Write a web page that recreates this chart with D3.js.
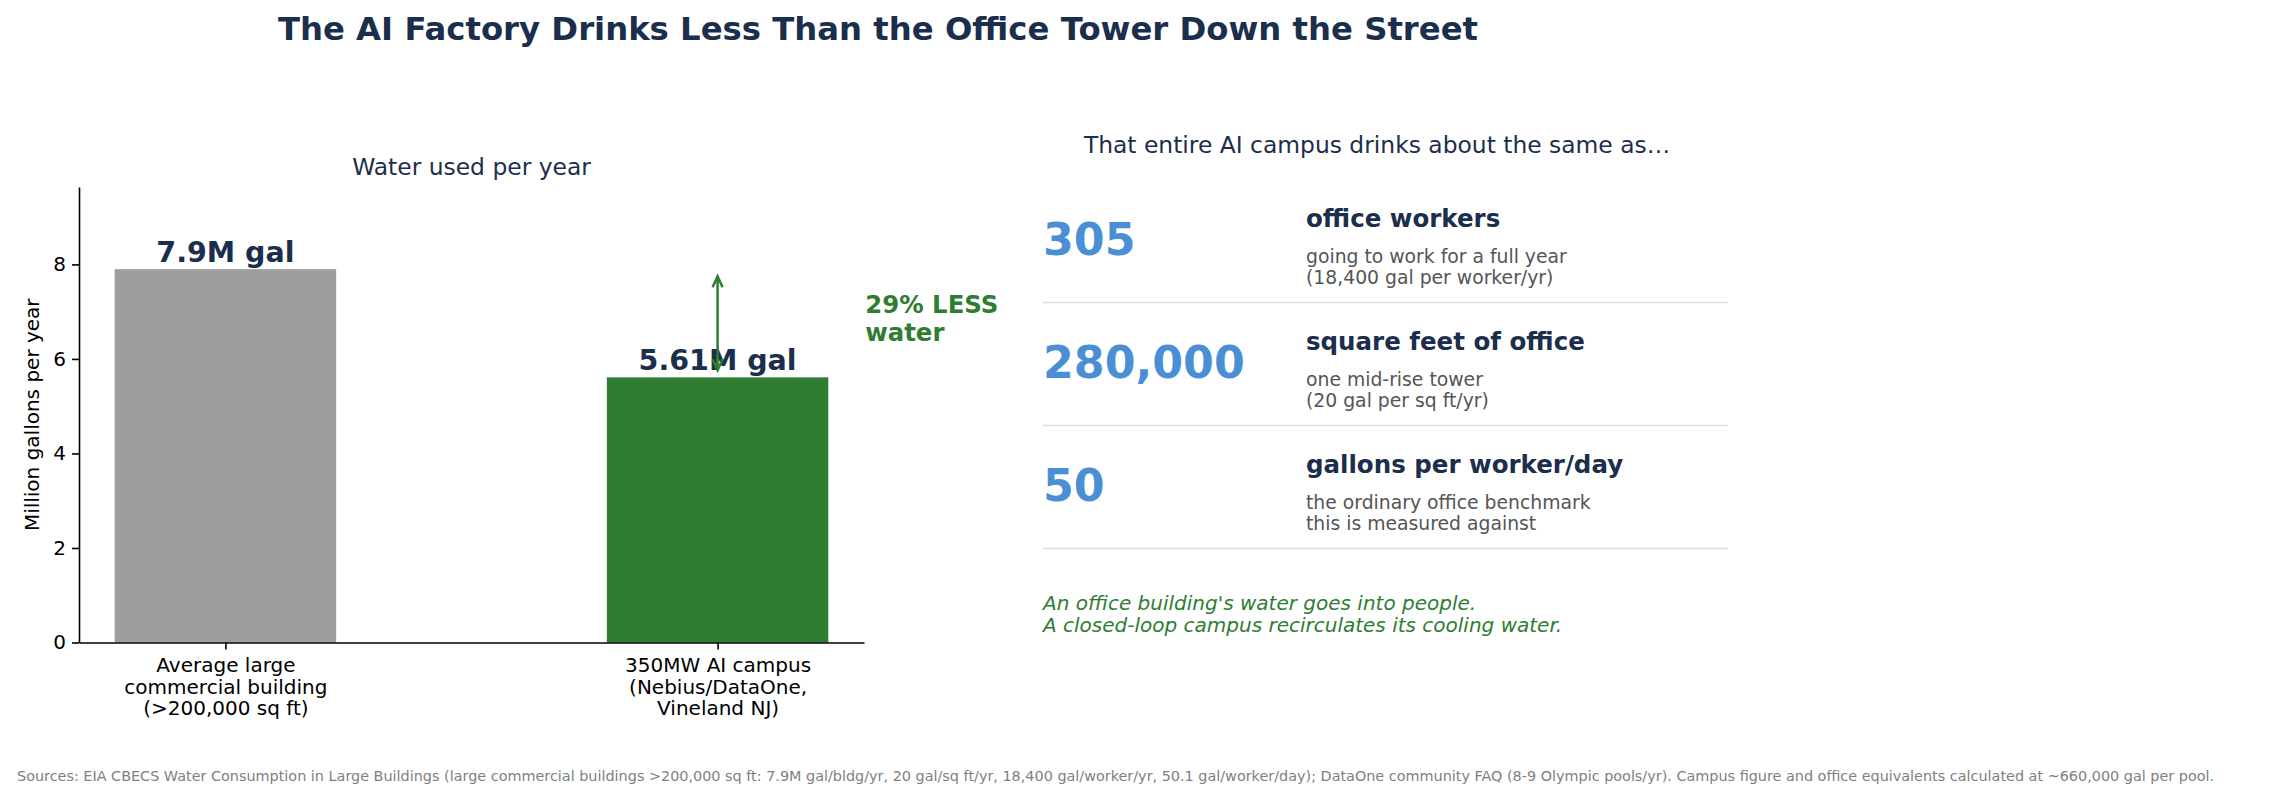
<!DOCTYPE html>
<html>
<head>
<meta charset="utf-8">
<script src="https://cdn.jsdelivr.net/npm/d3@7"></script>
<style>
    body { margin: 0; background: #fff; }
    svg { display: block; font-family: "DejaVu Sans", sans-serif; }
</style>
</head>
<body>
<div id="chart"></div>
<script>
// Chart data
const categories = [
    ['Average large', 'commercial building', '(>200,000 sq ft)'],
    ['350MW AI campus', '(Nebius/DataOne,', 'Vineland NJ)']
];
const waterMillions = [7.9, 5.61];
const barLabels = ['7.9M gal', '5.61M gal'];
const barColors = ['#9e9e9e', '#2e7d32'];
const yTicks = [0, 2, 4, 6, 8];
const savingLines = ['29% LESS', 'water'];

const equivNumbers = ['305', '280,000', '50'];
const equivHeads = ['office workers', 'square feet of office', 'gallons per worker/day'];
const equivNotes = [
    ['going to work for a full year', '(18,400 gal per worker/yr)'],
    ['one mid-rise tower', '(20 gal per sq ft/yr)'],
    ['the ordinary office benchmark', 'this is measured against']
];
const closingNote = [
    "An office building's water goes into people.",
    'A closed-loop campus recirculates its cooling water.'
];

const titleText = 'The AI Factory Drinks Less Than the Office Tower Down the Street';
const leftTitle = 'Water used per year';
const rightTitle = 'That entire AI campus drinks about the same as\u2026';
const yLabel = 'Million gallons per year';
const sourceText = 'Sources: EIA CBECS Water Consumption in Large Buildings (large commercial buildings >200,000 sq ft: 7.9M gal/bldg/yr, 20 gal/sq ft/yr, 18,400 gal/worker/yr, 50.1 gal/worker/day); DataOne community FAQ (8-9 Olympic pools/yr). Campus figure and office equivalents calculated at ~660,000 gal per pool.';

const NAVY = '#1b2e4b';
const GREEN = '#2e7d32';
const BLUE = '#4a8fd6';

const W = 2269, H = 799;
const svg = d3.select('#chart').append('svg')
    .attr('width', W)
    .attr('height', H);

svg.append('rect').attr('width', W).attr('height', H).attr('fill', '#fff');

// Suptitle
svg.append('text')
    .attr('x', 878)
    .attr('y', 39.5)
    .attr('text-anchor', 'middle')
    .style('font-size', '32.3px')
    .style('font-weight', 'bold')
    .style('fill', NAVY)
    .text(titleText);

// ---------- Left: bar chart ----------
const plot = { left: 79, right: 864, top: 187, bottom: 642.5 };
const barWidth = 0.45;

// matplotlib-like 5% margin around the bars
const span = (waterMillions.length - 1) + barWidth;
const pad = span * 0.05;
const xScale = d3.scaleLinear()
    .domain([-barWidth / 2 - pad, waterMillions.length - 1 + barWidth / 2 + pad])
    .range([plot.left, plot.right]);

const yScale = d3.scaleLinear()
    .domain([0, d3.max(waterMillions) * 1.22])
    .range([plot.bottom, plot.top]);

const left = svg.append('g');

left.selectAll('.bar')
    .data(waterMillions)
    .enter()
    .append('rect')
    .attr('class', 'bar')
    .attr('x', (d, i) => xScale(i - barWidth / 2))
    .attr('y', d => yScale(d))
    .attr('width', xScale(barWidth) - xScale(0))
    .attr('height', d => yScale(0) - yScale(d))
    .attr('fill', (d, i) => barColors[i]);

left.selectAll('.bar-label')
    .data(waterMillions)
    .enter()
    .append('text')
    .attr('class', 'bar-label')
    .attr('x', (d, i) => xScale(i))
    .attr('y', d => yScale(d) - 7.5)
    .attr('text-anchor', 'middle')
    .style('font-size', '28.5px')
    .style('font-weight', 'bold')
    .style('fill', NAVY)
    .text((d, i) => barLabels[i]);

// Y axis
const yAxis = left.append('g')
    .attr('transform', `translate(${plot.left},0)`)
    .call(d3.axisLeft(yScale).tickValues(yTicks).tickSize(7).tickSizeOuter(0).tickPadding(6).tickFormat(d3.format('d')));

// X axis
const xAxis = left.append('g')
    .attr('transform', `translate(0,${plot.bottom})`)
    .call(d3.axisBottom(xScale).tickValues(d3.range(categories.length)).tickSize(7).tickSizeOuter(0).tickFormat(''));

xAxis.selectAll('.tick text')
    .each(function(d) {
        const t = d3.select(this).attr('y', null).attr('dy', null);
        categories[d].forEach((line, k) => {
            t.append('tspan')
                .attr('x', 0)
                .attr('y', 29.5 + k * 21.5)
                .text(line);
        });
    });

[yAxis, xAxis].forEach(ax => {
    ax.selectAll('text').style('font-size', '20px').style('font-family', '"DejaVu Sans", sans-serif').style('fill', '#000');
    ax.selectAll('line').attr('stroke', '#000').attr('stroke-width', 1.6);
    ax.select('.domain').attr('stroke', '#000').attr('stroke-width', 1.6);
});

// Y label
svg.append('text')
    .attr('transform', `translate(38.5,${(plot.top + plot.bottom) / 2}) rotate(-90)`)
    .attr('text-anchor', 'middle')
    .style('font-size', '20px')
    .style('fill', '#000')
    .text(yLabel);

// Subplot title
svg.append('text')
    .attr('x', (plot.left + plot.right) / 2)
    .attr('y', 175)
    .attr('text-anchor', 'middle')
    .style('font-size', '23.4px')
    .style('fill', NAVY)
    .text(leftTitle);

// Double arrow between the two bar heights
const arrowX = xScale(1);
const yLow = yScale(waterMillions[1] + 0.15);
const yHigh = yScale(waterMillions[0] - 0.15);
left.append('line')
    .attr('x1', arrowX).attr('x2', arrowX)
    .attr('y1', yLow).attr('y2', yHigh)
    .attr('stroke', GREEN)
    .attr('stroke-width', 2.5);
[[yHigh, 1], [yLow, -1]].forEach(([yy, dir]) => {
    left.append('path')
        .attr('d', `M${arrowX - 5},${yy + dir * 11} L${arrowX},${yy} L${arrowX + 5},${yy + dir * 11}`)
        .attr('fill', 'none')
        .attr('stroke', GREEN)
        .attr('stroke-width', 2.5)
        .attr('stroke-linejoin', 'miter');
});

const midY = yScale((waterMillions[0] + waterMillions[1]) / 2);
left.selectAll('.saving')
    .data(savingLines)
    .enter()
    .append('text')
    .attr('class', 'saving')
    .attr('x', xScale(1.3))
    .attr('y', (d, i) => midY - 5 + (i - 0.5) * 27.6 + 8.5)
    .style('font-size', '24.4px')
    .style('font-weight', 'bold')
    .style('fill', GREEN)
    .text(d => d);

// ---------- Right: equivalents ----------
const right = svg.append('g');
const colNum = 1043, colText = 1306, colEnd = 1728;

right.append('text')
    .attr('x', 1377)
    .attr('y', 153)
    .attr('text-anchor', 'middle')
    .style('font-size', '23.4px')
    .style('fill', NAVY)
    .text(rightTitle);

const rowScale = d3.scaleBand()
    .domain(d3.range(equivNumbers.length))
    .range([179.5, 548.5]);

const rows = right.selectAll('.row')
    .data(equivNumbers)
    .enter()
    .append('g')
    .attr('class', 'row')
    .attr('transform', (d, i) => `translate(0,${rowScale(i)})`);

rows.append('text')
    .attr('x', colNum)
    .attr('y', 75.5)
    .style('font-size', '44.3px')
    .style('font-weight', 'bold')
    .style('fill', BLUE)
    .text(d => d);

rows.append('text')
    .attr('x', colText)
    .attr('y', 47.5)
    .style('font-size', '24.5px')
    .style('font-weight', 'bold')
    .style('fill', NAVY)
    .text((d, i) => equivHeads[i]);

rows.each(function(d, i) {
    const g = d3.select(this);
    equivNotes[i].forEach((line, k) => {
        g.append('text')
            .attr('x', colText)
            .attr('y', 83 + k * 21)
            .style('font-size', '18.8px')
            .style('fill', '#555')
            .text(line);
    });
});

rows.append('line')
    .attr('x1', colNum).attr('x2', colEnd)
    .attr('y1', rowScale.step()).attr('y2', rowScale.step())
    .attr('stroke', '#dddddd')
    .attr('stroke-width', 1.6);

right.selectAll('.closing')
    .data(closingNote)
    .enter()
    .append('text')
    .attr('class', 'closing')
    .attr('x', colNum)
    .attr('y', (d, i) => 610 + i * 21.6)
    .style('font-size', '20px')
    .style('font-style', 'italic')
    .style('fill', GREEN)
    .text(d => d);

// Sources footer
svg.append('text')
    .attr('x', 17)
    .attr('y', 780.5)
    .style('font-size', '14.4px')
    .style('fill', '#808080')
    .text(sourceText);
</script>
</body>
</html>
